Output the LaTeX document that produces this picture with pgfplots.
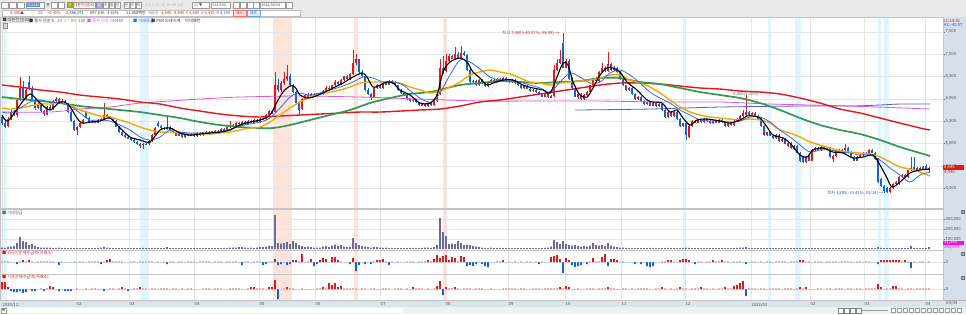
\documentclass[border=0pt]{standalone}
\usepackage{pgfplots}
\pgfplotsset{compat=1.18}
\usepackage{pgfplotstable}
\usepackage{fontspec}
\setmainfont{Noto Sans CJK KR}
\definecolor{upc}{HTML}{E81515}
\definecolor{dnc}{HTML}{1B5FD8}
\definecolor{ma10}{HTML}{2F6FF0}
\definecolor{ma20}{HTML}{F2A900}
\definecolor{ma60}{HTML}{2E9A52}
\definecolor{ma120}{HTML}{E8161B}
\definecolor{ma240}{HTML}{E055D0}
\definecolor{ma480}{HTML}{5A5AD6}
\definecolor{volc}{HTML}{6A6A9C}
\definecolor{bandb}{HTML}{E2F5FC}
\definecolor{bandp}{HTML}{FCE3DC}
\definecolor{gridc}{HTML}{E6E6E6}
\definecolor{linec}{HTML}{C4C4C4}
\definecolor{hdr}{HTML}{E9E9E9}
\definecolor{rcol}{HTML}{D6DFEA}
\definecolor{strip}{HTML}{DCE3EC}
\definecolor{magtag}{HTML}{F010E8}
\newcommand\hd{\fontsize{4.0}{5}\selectfont}
\newcommand\hs{\fontsize{3.5}{4}\selectfont}
\newcommand\tk{\fontsize{4.2}{5}\selectfont}

\pgfplotstableread{
x o h l c v f g
2 5600 5640 5420 5450 15000 1 7
5 5450 5500 5350 5380 12000 1 7
8 5400 5600 5370 5560 20000 1 2
11 5550 5740 5520 5700 25000 -1 -2
14 5700 5760 5620 5650 30000 -1 -3
17 5640 6020 5600 5980 60000 -2 -3
20 5980 6480 5950 6250 120000 1 -2
23 6250 6400 5980 6020 80000 2 -4
26 6030 6240 6000 6200 70000 1 -3
29 6380 6520 6200 6240 40000 2 -1
32 6240 6280 5950 5980 50000 1 -2
35 5980 6000 5760 5800 30000 -1 -2
38 5800 5920 5770 5880 20000 1 -1
41 5870 5900 5700 5720 15000 1 1
44 5720 5760 5620 5650 14000 1 -2
47 5650 5850 5630 5820 13000 1 1
50 5820 5860 5750 5780 13000 1 3
53 5780 5980 5760 5950 12000 1 2
56 5950 6050 5920 6000 12000 -1 -1
59 6000 6020 5880 5900 13000 -3 -2
62 5900 5990 5880 5950 12000 1 -1
65 5950 5970 5860 5880 11000 -1 -2
68 5880 5900 5680 5700 10000 -1 -2
71 5700 5720 5480 5500 12000 -1 -2
74 5500 5520 5280 5300 10000 1 -1
77 5300 5400 5200 5380 9000 -1 1
80 5380 5470 5350 5450 9000 1 -1
83 5450 5540 5430 5520 8000 1 -1
86 5700 5720 5550 5570 9000 -1 1
89 5570 5590 5460 5480 8000 1 -1
92 5480 5520 5460 5500 9000 1 1
95 5490 5510 5450 5470 9000 1 1
98 5470 5540 5450 5520 10000 1 -1
101 5520 5580 5500 5560 14000 -2 -1
104 5560 5900 5540 5640 20000 1 -2
107 5640 5660 5580 5600 14000 2 -1
110 5600 5620 5540 5560 11000 3 1
113 5560 5580 5480 5500 10000 1 1
116 5500 5520 5360 5380 9000 1 -1
119 5380 5400 5230 5250 10000 1 1
122 5260 5280 5180 5200 9000 1 2
125 5200 5220 5130 5150 9000 -1 1
128 5150 5170 5100 5120 9000 -1 -2
131 5120 5140 5060 5080 8000 1 -1
134 5080 5100 5020 5040 8000 1 1
137 5040 5060 4960 4980 9000 -1 1
140 4990 5010 4900 4960 10000 1 2
143 4960 5020 4880 5000 12000 1 1
146 5000 5020 4960 4980 10000 1 1
149 4980 5080 4960 5060 9000 1 -1
152 5060 5220 5040 5200 10000 1 1
155 5200 5370 5180 5350 12000 -1 1
158 5460 5500 5380 5400 11000 1 -1
161 5400 5420 5330 5350 9000 -1 1
164 5350 5370 5300 5330 9000 1 1
167 5330 5600 5310 5380 20000 -2 1
170 5380 5400 5280 5300 10000 1 -1
173 5300 5320 5230 5250 9000 1 1
176 5250 5270 5160 5180 8000 -1 1
179 5180 5250 5160 5230 9000 1 -1
182 5230 5250 5130 5150 8000 1 1
185 5150 5220 5130 5200 9000 -1 -1
188 5200 5220 5160 5180 8000 1 1
191 5180 5240 5160 5220 8000 1 1
194 5220 5240 5150 5170 9000 1 -1
197 5170 5250 5150 5230 8000 -1 -1
200 5230 5250 5180 5200 8000 1 -1
203 5200 5270 5180 5250 9000 1 1
206 5250 5270 5200 5220 9000 1 1
209 5220 5290 5200 5270 9000 1 1
212 5270 5290 5220 5240 8000 -1 -1
215 5240 5300 5220 5280 9000 1 1
218 5280 5300 5230 5250 9000 1 1
221 5250 5340 5230 5320 10000 1 1
224 5320 5340 5280 5300 12000 -1 -1
227 5300 5380 5280 5360 11000 1 -1
230 5360 5500 5340 5420 15000 1 1
233 5420 5440 5360 5380 13000 1 1
236 5380 5490 5360 5470 14000 1 1
239 5470 5490 5410 5430 20000 -1 1
242 5430 5500 5410 5480 18000 -3 -1
245 5480 5500 5420 5440 14000 1 -1
248 5440 5520 5420 5500 12000 1 1
251 5500 5520 5450 5470 13000 -1 2
254 5470 5540 5450 5520 12000 1 2
257 5520 5540 5470 5490 15000 1 1
260 5490 5580 5470 5560 20000 1 1
263 5560 5580 5520 5540 18000 -3 1
266 5540 5660 5520 5640 25000 -2 -1
269 5640 5740 5620 5720 35000 1 2
272 5720 5740 5660 5680 30000 1 2
275 5700 6600 5680 6300 340000 3 9
278 6300 6450 6150 6200 60000 -3 -10
281 6200 6400 6150 6350 55000 -2 -1
284 6350 6600 6300 6450 60000 -1 1
287 6450 6750 6400 6520 70000 -3 2
290 6520 6560 6280 6300 50000 -2 1
293 6300 6340 6130 6150 80000 2 1
296 6150 6180 5880 5900 60000 2 -1
299 5900 5950 5650 5760 40000 1 -1
302 5780 6020 5760 6000 30000 8 1
305 6000 6100 5980 6080 20000 -1 -1
308 6080 6120 6030 6050 25000 1 -1
311 6050 6130 6030 6100 18000 3 -1
314 6100 6130 6040 6060 15000 -4 -1
317 6060 6140 6040 6120 14000 -2 1
320 6120 6150 6080 6100 13000 2 1
323 6100 6200 6080 6180 25000 4 2
326 6180 6280 6160 6250 30000 3 1
329 6250 6290 6200 6220 20000 -1 6
332 6220 6320 6200 6300 35000 5 4
335 6300 6420 6280 6380 45000 5 6
338 6380 6400 6320 6340 30000 2 2
341 6340 6440 6320 6420 40000 1 3
344 6420 6520 6400 6500 25000 -1 1
347 6500 6530 6430 6450 20000 -1 1
350 6450 6580 6430 6560 22000 -2 1
353 6560 7100 6540 6800 110000 4 1
356 6800 7000 6760 6880 60000 -9 1
359 6880 6900 6580 6600 40000 -3 -1
362 6600 6640 6480 6500 30000 -1 1
365 6500 6520 6180 6200 25000 -2 1
368 6200 6240 6080 6100 20000 -1 -1
371 6100 6120 5980 6040 15000 -2 1
374 6040 6270 6020 6250 20000 1 1
377 6250 6330 6230 6300 18000 2 -1
380 6300 6320 6230 6250 14000 2 -1
383 6250 6370 6230 6350 12000 3 1
386 6350 6380 6300 6320 15000 1 1
389 6320 6420 6300 6400 12000 -3 1
392 6400 6420 6340 6360 11000 1 -1
395 6380 6400 6280 6300 10000 -1 1
398 6300 6320 6180 6200 10000 1 1
401 6200 6220 6110 6130 9000 -1 1
404 6130 6150 6060 6080 10000 -1 -1
407 6080 6100 5980 6000 9000 1 1
410 6000 6020 5930 5950 10000 1 -1
413 5950 6000 5930 5980 12000 1 2
416 5980 6000 5900 5920 10000 -1 1
419 5920 5940 5840 5860 10000 1 1
422 5860 5900 5840 5880 12000 1 1
425 5880 5900 5820 5840 14000 1 -1
428 5840 5920 5820 5900 15000 2 1
431 5900 5920 5850 5870 12000 1 -1
434 5870 5970 5850 5950 20000 3 1
437 5950 6120 5930 6100 40000 7 3
440 6100 6900 6080 6700 310000 4 8
443 6700 6950 6550 6600 170000 6 -6
446 6620 7000 6600 6850 130000 7 2
449 6850 7000 6820 6950 50000 2 1
452 6950 6980 6880 6900 55000 5 1
455 6900 7150 6880 7000 50000 4 2
458 7000 7050 6900 6920 80000 1 1
461 6920 7180 6900 7030 60000 6 -1
464 7030 7060 6960 6980 40000 5 1
467 6980 7000 6630 6650 45000 -4 1
470 6650 6680 6360 6380 40000 -3 1
473 6380 6430 6350 6400 30000 -4 -1
476 6400 6420 6280 6300 25000 -2 1
479 6300 6440 6280 6420 20000 -1 1
482 6420 6440 6330 6350 15000 -2 1
485 6350 6370 6260 6280 12000 -4 -1
488 6280 6370 6260 6350 10000 -5 -1
491 6350 6440 6330 6420 13000 -1 1
494 6420 6440 6360 6380 10000 -1 -1
497 6380 6470 6360 6450 9000 1 -1
500 6450 6470 6380 6400 11000 1 -1
503 6400 6490 6380 6470 9000 2 1
506 6470 6490 6400 6420 8000 -1 1
509 6420 6440 6360 6380 10000 1 1
512 6380 6440 6360 6420 8000 -1 1
515 6420 6440 6330 6350 9000 1 1
518 6350 6370 6280 6300 9000 -1 -1
521 6300 6320 6230 6250 8000 1 1
524 6250 6300 6230 6280 10000 -1 1
527 6280 6300 6210 6230 9000 1 -1
530 6230 6250 6160 6180 8000 1 -1
533 6180 6220 6160 6200 10000 -1 1
536 6200 6220 6130 6150 9000 1 1
539 6150 6170 6080 6100 9000 -2 1
542 6100 6120 6030 6050 10000 1 -1
545 6050 6120 6030 6100 11000 -1 1
548 6100 6120 6010 6030 14000 -1 1
551 6030 6080 6010 6060 25000 5 1
554 6060 6750 6040 6650 90000 6 1
557 6650 6900 6620 6800 70000 7 1
560 6800 7100 6780 6900 50000 3 2
563 7250 7480 6680 6700 80000 -11 1
566 6700 6900 6680 6850 50000 4 3
569 6850 6880 6430 6450 40000 2 2
572 6450 6480 6230 6250 35000 -3 -1
575 6250 6280 6030 6050 40000 -5 -1
578 6050 6120 6000 6100 30000 -4 1
581 6100 6130 5980 6000 25000 -3 -1
584 6000 6100 5980 6080 28000 -1 -1
587 6080 6170 6060 6150 25000 -2 1
590 6150 6320 6130 6300 35000 1 1
593 6300 6470 6280 6450 60000 4 1
596 6450 6480 6380 6400 40000 1 -1
599 6400 6620 6380 6600 35000 1 1
602 6600 6800 6580 6700 40000 5 1
605 6700 6730 6600 6620 30000 8 1
608 6620 7050 6600 6780 60000 -4 2
611 6780 6800 6630 6650 35000 3 1
614 6650 6730 6630 6700 25000 3 1
617 6700 6720 6580 6600 20000 2 -1
620 6600 6620 6430 6450 15000 -1 -1
623 6450 6470 6280 6300 13000 1 1
626 6300 6320 6180 6200 12000 -1 1
629 6200 6270 6180 6250 10000 -1 -1
632 6250 6270 6080 6100 9000 -1 1
635 6100 6120 5980 6000 9000 -2 -1
638 6000 6070 5980 6050 10000 -1 1
641 6050 6070 5930 5950 9000 -2 1
644 5950 5970 5860 5880 9000 -1 1
647 5880 5940 5860 5920 10000 -4 1
650 5920 5940 5830 5850 11000 -5 -1
653 5850 5920 5830 5900 10000 -4 -1
656 5900 5920 5810 5830 9000 -1 1
659 5830 5900 5810 5880 9000 -1 1
662 5880 5900 5730 5750 10000 1 2
665 5750 5770 5580 5600 10000 1 1
668 5600 5720 5580 5700 11000 2 -1
671 5700 5720 5600 5620 10000 2 1
674 5620 5720 5600 5700 9000 1 -1
677 5700 5720 5530 5550 9000 -1 1
680 5550 5570 5380 5400 9000 2 2
683 5400 5470 5380 5450 12000 3 1
686 5450 5470 5080 5200 15000 3 1
689 5150 5420 5130 5400 12000 2 -1
692 5400 5520 5380 5500 10000 -1 1
695 5500 5520 5450 5470 9000 -2 1
698 5470 5540 5450 5520 9000 1 1
701 5520 5540 5470 5490 8000 1 2
704 5490 5560 5470 5540 8000 -1 1
707 5540 5560 5480 5500 8000 1 1
710 5500 5520 5440 5460 8000 1 -1
713 5460 5520 5440 5500 8000 2 1
716 5500 5520 5450 5470 8000 1 -1
719 5470 5540 5450 5520 9000 1 1
722 5520 5540 5460 5480 8000 2 1
725 5480 5500 5380 5400 9000 1 2
728 5400 5470 5380 5450 10000 1 1
731 5450 5470 5400 5420 9000 -1 1
734 5420 5520 5400 5500 10000 1 3
737 5500 5570 5480 5550 12000 1 4
740 5550 5640 5530 5620 13000 1 6
743 5620 5750 5600 5680 15000 -1 8
746 5640 6080 5620 5700 20000 -2 -7
749 5700 5720 5630 5650 12000 -1 1
752 5650 5700 5630 5680 10000 1 1
755 5680 5700 5600 5620 9000 1 1
758 5620 5640 5530 5550 9000 -1 -1
761 5550 5570 5380 5400 8000 1 1
764 5400 5420 5180 5200 9000 -1 1
767 5200 5270 5180 5250 8000 1 -1
770 5250 5270 5160 5180 8000 1 1
773 5180 5200 5110 5130 8000 -1 1
776 5130 5220 5110 5200 8000 1 1
779 5200 5220 5030 5050 9000 1 1
782 5050 5120 5030 5100 8000 1 -1
785 5100 5120 4980 5000 8000 1 1
788 4950 5040 4930 5020 8000 -1 1
791 5020 5040 4880 4900 9000 1 1
794 4880 4970 4860 4950 8000 1 -1
797 4950 4970 4780 4800 8000 1 1
800 4800 4820 4580 4600 10000 2 2
803 4700 4720 4560 4580 9000 2 1
806 4580 4720 4560 4700 8000 1 2
809 4750 4770 4600 4620 8000 1 -1
812 4620 4870 4600 4850 9000 -1 -1
815 4850 4920 4830 4900 8000 1 -1
818 4900 4920 4830 4850 8000 1 1
821 4850 4940 4830 4920 8000 1 1
824 4920 4940 4860 4880 8000 -1 -1
827 4880 4920 4860 4900 8000 1 1
830 4900 4920 4680 4700 8000 1 1
833 4650 4740 4580 4720 9000 1 -1
836 4720 4870 4700 4850 8000 1 1
839 4850 4870 4780 4800 8000 -1 1
842 4800 4870 4780 4850 8000 1 1
845 4850 5000 4830 4900 9000 1 -1
848 4900 4920 4800 4820 8000 1 1
851 4820 4840 4680 4700 8000 1 1
854 4700 4720 4600 4620 8000 -1 -1
857 4620 4720 4600 4700 8000 1 1
860 4700 4770 4680 4750 8000 1 1
863 4750 4820 4730 4800 9000 -1 -1
866 4800 4820 4760 4780 8000 1 1
869 4780 4870 4760 4850 8000 1 1
872 4850 4870 4780 4800 8000 -1 1
875 4800 4820 4630 4650 9000 -1 1
878 4650 4670 4130 4150 20000 -2 5
881 4200 4220 4030 4050 12000 2 2
884 4050 4080 3885 3950 10000 2 -1
887 4000 4020 3885 3920 9000 2 1
890 3920 4020 3900 4000 8000 2 1
893 4000 4120 3980 4100 8000 2 3
896 4150 4170 4080 4100 8000 2 3
899 4100 4270 4080 4250 9000 2 1
902 4250 4320 4230 4300 8000 1 1
905 4300 4320 4230 4250 8000 2 -1
908 4250 4420 4230 4400 9000 1 1
911 4400 4700 4380 4450 30000 -6 1
914 4480 4700 4380 4400 12000 1 -1
917 4400 4470 4380 4450 9000 -1 1
920 4450 4470 4400 4420 9000 1 1
923 4420 4500 4400 4480 10000 1 1
926 4500 4550 4410 4430 9000 -1 1
929 4400 4470 4350 4445 20000 1 1
}\candles

\pgfplotsset{
  panel/.style={scale only axis, width=943pt, xmin=0, xmax=943, anchor=north west,
    xtick={2,76,129,194,259,315,380,445,508,565,621,685,751,810,864,925},
    xticklabels={}, xtick style={draw=none},
    grid=major, major grid style={draw=gridc, line width=0.4pt},
    axis line style={draw=linec, line width=0.4pt},
    ytick pos=right, yticklabel pos=right, tick align=outside, major tick length=1.8pt,
    ytick style={draw=black!55, line width=0.3pt},
    yticklabel style={font=\tk, text=black!70, inner sep=0.6pt},
    scaled y ticks=false,
    /pgf/number format/fixed, /pgf/number format/1000 sep={,},
    /pgf/number format/assume math mode=true},
  netbar/.style={ybar, bar width=1.7pt, bar shift=0pt, draw=none, forget plot}
}

\begin{document}
\begin{tikzpicture}
\useasboundingbox (0pt,0pt) rectangle (966pt,-314pt);
\begin{scope}[x=1pt,y=-1pt]
\fill[white] (0,0) rectangle (966,314);
% header
\fill[hdr] (0,0) rectangle (966,17);
\draw[black!30, line width=0.4pt] (0,17) -- (966,17);
\foreach \a in {1,9,17} {\draw[fill=white, draw=black!40, line width=0.3pt] (\a,2) rectangle ++(7,6);}
\draw[fill=white, draw=black!40, line width=0.3pt] (26,2) rectangle (44,8);
\node[anchor=west, font=\hs, text=white, fill=ma10!80, inner sep=0.4pt] at (27,5) {001440};
\node[font=\hs, text=black!60, inner sep=0] at (48,5) {▼};
\draw[fill=white, draw=black!40, line width=0.3pt] (51,2) rectangle ++(6,6);
\draw[fill=white, draw=black!40, line width=0.3pt] (58,2) rectangle ++(6,6);
\fill[olive!80] (67,2) rectangle (73,8);
\node[font=\hs, text=white, inner sep=0] at (70,5) {종};
\draw[fill=white, draw=black!40, line width=0.3pt] (73.5,2) rectangle (95.5,8);
\node[anchor=west, font=\hs, text=upc!80!black, inner sep=0] at (74.2,5) {대한전선(DX)};
\draw[fill=rcol!60!ma10, draw=black!40, line width=0.3pt] (96.5,2) rectangle ++(5.5,6);
\node[font=\hs, text=white, inner sep=0] at (99.25,5) {일};
\foreach \a/\t in {103/주,109/월,115/년,124/분,130/초,136/틱} {
  \draw[fill=white, draw=black!40, line width=0.3pt] (\a,2) rectangle ++(5.5,6);
  \node[font=\hs, text=black!70, inner sep=0] at (\a+2.75,5) {\t};}
\node[anchor=west, font=\hs, text=black!35, inner sep=0] at (145,5) {1 \ 3 \ 5 \ 10 \ 15 \ 30 \ 60 \ 120};
\draw[fill=white, draw=black!40, line width=0.3pt] (192,2) rectangle (209,8);
\node[anchor=west, font=\hs, text=black!70, inner sep=0] at (194,5) {15 ▼};
\draw[fill=white, draw=black!40, line width=0.3pt] (211,2) rectangle (230,8);
\node[anchor=west, font=\hs, text=black!70, inner sep=0] at (212.5,5) {314/500};
\foreach \a in {233,240,247,253} {\draw[fill=white, draw=black!40, line width=0.3pt] (\a,2) rectangle ++(6,6);}
\draw[fill=white, draw=black!40, line width=0.3pt] (260,2) rectangle (285,8);
\node[anchor=west, font=\hs, text=black!75, inner sep=0] at (261.5,5) {2022/04/04};
\draw[fill=white, draw=black!40, line width=0.3pt] (286,2) rectangle ++(6,6);
% header row 2
\draw[fill=white, draw=black!25, line width=0.3pt] (2,10) rectangle (300,16.5);
\node[anchor=west, font=\hd, text=upc, inner sep=0] at (10,13.2) {4,445▲};
\node[anchor=west, font=\hd, text=upc, inner sep=0] at (38,13.2) {20};
\node[anchor=west, font=\hd, text=upc, inner sep=0] at (47,13.2) {+0.45\%};
\node[anchor=west, font=\hd, text=black!80, inner sep=0] at (66,13.2) {2,566,071};
\node[anchor=west, font=\hd, text=upc!70!black, inner sep=0] at (90,13.2) {687,616};
\node[anchor=west, font=\hd, text=black!80, inner sep=0] at (107,13.2) {3.61\%};
\node[anchor=west, font=\hd, text=black!80, inner sep=0] at (126,13.2) {11,058백만};
\node[anchor=west, font=\hs, text=black!60, inner sep=0] at (148.5,13.2) {매도잔};
\node[anchor=west, font=\hd, text=upc, inner sep=0] at (161,13.2) {4,445};
\node[anchor=west, font=\hd, text=upc, inner sep=0] at (174,13.2) {4,440};
\node[anchor=west, font=\hs, text=black!70, inner sep=0] at (185,13.2) {시};
\node[anchor=west, font=\hd, text=upc, inner sep=0] at (189,13.2) {4,400};
\node[anchor=west, font=\hs, text=black!70, inner sep=0] at (200.5,13.2) {고};
\node[anchor=west, font=\hd, text=upc, inner sep=0] at (204.5,13.2) {4,470};
\node[anchor=west, font=\hs, text=black!70, inner sep=0] at (216,13.2) {저};
\node[anchor=west, font=\hd, text=dnc, inner sep=0] at (220,13.2) {4,350};
\draw[fill=bandp, draw=upc!60, line width=0.3pt] (233,10.5) rectangle (246,16);
\node[font=\hs, text=upc, inner sep=0] at (239.5,13.2) {매수};
\draw[fill=bandb!60!ma10!30, draw=dnc!60, line width=0.3pt] (247,10.5) rectangle (260,16);
\node[font=\hs, text=dnc, inner sep=0] at (253.5,13.2) {매도};
% right column, date strip, scroll bar
\fill[rcol] (943,17) rectangle (966,300);
\fill[strip] (0,300) rectangle (966,307);
\draw[black!30, line width=0.3pt] (0,300) -- (966,300);
\fill[black!6] (0,307) rectangle (966,314);
\draw[fill=white, draw=black!40, line width=0.3pt] (1,308) rectangle (6,313);
\node[font=\hs, text=black!60, inner sep=0] at (3.5,310.5) {◀};
\fill[white] (7,308) rectangle (403,313);
\foreach \a in {838,844,850,856} {\draw[fill=white, draw=black!50, line width=0.3pt] (\a,308) rectangle ++(5,5);}
\draw[black!40, line width=0.4pt] (862,310.5) -- (888,310.5);
\foreach \a in {891,897,903,909,915,921,927,933,939,945,951,957} {\draw[fill=white, draw=black!40, line width=0.3pt] (\a,308.5) rectangle ++(4.5,4);}
% vertical bands
\foreach \a/\b in {0/7,140/149,683/686,768/771,795/801,878/881,884/889} {\fill[bandb] (\a,17.5) rectangle (\b,300);}
\foreach \a/\b in {273/292,354/358,443/447} {\fill[bandp] (\a,17.5) rectangle (\b,300);}
\end{scope}

% ---------- main price panel ----------
\begin{axis}[panel, at={(0pt,-17pt)}, height=191pt, ymin=3560, ymax=7829,
  ytick={4000,4500,5000,5500,6000,6500,7000,7500}]
% wicks
\addplot[draw=none, mark=none, forget plot, restrict y to domain=0:100000,
  error bars/.cd, y dir=both, y explicit, error mark=none,
  error bar style={draw=upc, line width=0.5pt}]
  table[x=x, y expr={\thisrow{c}>=\thisrow{o} ? (\thisrow{h}+\thisrow{l})/2 : -100000},
        y error expr={(\thisrow{h}-\thisrow{l})/2}] {\candles};
\addplot[draw=none, mark=none, forget plot, restrict y to domain=0:100000,
  error bars/.cd, y dir=both, y explicit, error mark=none,
  error bar style={draw=dnc, line width=0.5pt}]
  table[x=x, y expr={\thisrow{c}<\thisrow{o} ? (\thisrow{h}+\thisrow{l})/2 : -100000},
        y error expr={(\thisrow{h}-\thisrow{l})/2}] {\candles};
% bodies
\addplot[draw=none, mark=none, forget plot, restrict y to domain=0:100000,
  error bars/.cd, y dir=both, y explicit, error mark=none,
  error bar style={draw=upc, line width=2pt}]
  table[x=x, y expr={\thisrow{c}>=\thisrow{o} ? (\thisrow{o}+\thisrow{c})/2 : -100000},
        y error expr={abs(\thisrow{c}-\thisrow{o})/2}] {\candles};
\addplot[draw=none, mark=none, forget plot, restrict y to domain=0:100000,
  error bars/.cd, y dir=both, y explicit, error mark=none,
  error bar style={draw=dnc, line width=2pt}]
  table[x=x, y expr={\thisrow{c}<\thisrow{o} ? (\thisrow{o}+\thisrow{c})/2 : -100000},
        y error expr={abs(\thisrow{c}-\thisrow{o})/2}] {\candles};
% MA 480
\addplot[ma480, line width=0.8pt, mark=none, smooth] coordinates {
(575,5750)(650,5772)(720,5817)(800,5839)(850,5839)(880,5862)(900,5884)(930,5884)};
% MA 240
\addplot[ma240, line width=0.8pt, mark=none, smooth] coordinates {
(2,5705)(50,5705)(80,5772)(110,5817)(140,5906)(170,5951)(200,5996)(240,6040)(300,6063)(360,6040)(420,5996)(480,5951)(540,5951)(600,5951)(660,5929)(720,5929)(770,5884)(850,5839)(930,5772)};
% MA 120
\addplot[ma120, line width=1.4pt, mark=none, smooth] coordinates {
(2,6309)(20,6264)(40,6197)(60,6152)(80,6085)(100,6040)(120,5996)(140,5929)(160,5884)(180,5794)(200,5727)(220,5661)(240,5616)(260,5594)(280,5616)(300,5638)(320,5661)(340,5683)(360,5705)(380,5705)(400,5727)(420,5750)(440,5772)(460,5839)(480,5929)(500,5974)(520,6040)(540,6108)(560,6175)(580,6242)(600,6309)(620,6353)(640,6353)(660,6331)(680,6286)(700,6242)(720,6219)(740,6175)(760,6152)(780,6108)(800,6018)(820,5906)(840,5772)(860,5683)(880,5571)(900,5459)(920,5348)(930,5303)};
% MA 60
\addplot[ma60, line width=1.7pt, mark=none, smooth] coordinates {
(2,6040)(20,5996)(40,5951)(60,5906)(80,5839)(100,5794)(120,5750)(140,5705)(160,5638)(180,5571)(200,5482)(220,5415)(240,5370)(260,5348)(273,5348)(290,5415)(310,5527)(330,5638)(350,5750)(370,5906)(390,6018)(410,6108)(430,6152)(443,6219)(460,6309)(480,6353)(500,6398)(520,6376)(540,6353)(560,6376)(580,6398)(600,6465)(620,6465)(640,6376)(660,6331)(680,6242)(700,6152)(720,6085)(740,6018)(760,5906)(780,5750)(800,5571)(820,5415)(840,5303)(860,5214)(880,5080)(900,4923)(920,4789)(930,4722)};
% MA 20
\addplot[ma20, line width=1.4pt, mark=none, smooth] coordinates {
(2,5794)(10,5772)(20,5794)(30,5839)(40,5884)(50,5884)(60,5906)(70,5862)(80,5750)(90,5683)(100,5616)(110,5594)(120,5527)(130,5459)(140,5370)(150,5303)(160,5258)(170,5258)(180,5236)(190,5214)(200,5214)(210,5214)(220,5236)(230,5258)(240,5303)(250,5348)(260,5370)(270,5482)(280,5638)(290,5794)(300,5929)(310,6040)(320,6108)(330,6152)(340,6197)(350,6264)(360,6353)(370,6376)(380,6376)(390,6376)(400,6353)(410,6264)(420,6197)(430,6130)(440,6175)(450,6264)(460,6376)(470,6532)(480,6599)(490,6644)(500,6599)(510,6555)(520,6465)(530,6376)(540,6353)(550,6309)(560,6353)(570,6376)(580,6398)(590,6420)(600,6465)(610,6532)(620,6532)(630,6420)(640,6353)(650,6264)(660,6130)(670,5974)(680,5817)(690,5705)(700,5638)(710,5594)(720,5571)(730,5549)(740,5527)(750,5549)(760,5527)(770,5459)(780,5303)(790,5236)(800,5147)(810,5035)(820,4968)(830,4901)(840,4834)(850,4811)(860,4789)(870,4767)(880,4700)(890,4588)(900,4476)(910,4431)(920,4364)(930,4275)};
% MA 10
\addplot[ma10, line width=0.8pt, mark=none, smooth] coordinates {
(2,5705)(10,5683)(20,5794)(30,5929)(40,5974)(50,5929)(60,5906)(70,5839)(80,5683)(90,5527)(100,5527)(110,5504)(120,5415)(130,5303)(140,5147)(150,5080)(160,5147)(170,5303)(180,5258)(190,5236)(200,5236)(220,5258)(240,5393)(260,5482)(270,5571)(280,5794)(290,6040)(298,6130)(310,6085)(320,6130)(330,6197)(340,6264)(353,6376)(363,6488)(373,6465)(383,6376)(393,6376)(403,6309)(413,6130)(423,5974)(432,5929)(440,6130)(450,6532)(460,6868)(470,6823)(480,6666)(490,6488)(500,6420)(510,6420)(520,6376)(530,6309)(540,6242)(550,6152)(560,6376)(570,6577)(580,6488)(590,6353)(600,6376)(610,6577)(620,6644)(630,6532)(640,6353)(650,6152)(660,6018)(670,5906)(680,5750)(690,5638)(700,5527)(710,5504)(720,5504)(730,5482)(740,5504)(750,5594)(760,5594)(770,5482)(780,5303)(790,5147)(800,4968)(810,4811)(820,4856)(830,4856)(840,4811)(850,4789)(860,4744)(870,4744)(880,4633)(890,4454)(900,4297)(910,4141)(920,4297)(930,4364)};
% MA 5
\addplot[black, line width=1.1pt, mark=none, smooth] coordinates {
(2,5638)(8,5504)(20,5862)(30,6108)(40,5906)(50,5750)(60,5929)(68,5884)(77,5571)(82,5459)(90,5482)(100,5504)(110,5571)(120,5348)(130,5147)(140,5080)(150,5035)(160,5303)(170,5348)(180,5236)(190,5191)(200,5214)(210,5236)(220,5258)(230,5303)(240,5415)(250,5482)(260,5527)(270,5638)(277,5929)(283,6152)(290,6286)(295,6264)(300,6085)(307,6018)(313,6040)(323,6130)(333,6242)(343,6353)(353,6488)(362,6577)(367,6488)(373,6264)(380,6309)(387,6376)(393,6353)(400,6197)(410,6085)(420,5906)(430,5906)(437,6085)(443,6599)(450,6823)(460,6912)(467,6823)(473,6599)(480,6465)(487,6309)(493,6353)(503,6420)(513,6420)(523,6309)(533,6242)(543,6197)(550,6130)(557,6488)(563,6800)(568,6756)(573,6376)(580,6085)(587,6040)(593,6242)(600,6532)(607,6689)(613,6689)(620,6599)(627,6376)(637,6197)(647,5974)(653,5929)(662,5906)(670,5705)(677,5750)(683,5571)(690,5415)(697,5527)(707,5549)(720,5504)(730,5459)(740,5527)(747,5616)(753,5616)(760,5571)(767,5370)(773,5191)(783,5124)(790,5012)(800,4744)(807,4700)(813,4856)(823,4901)(833,4811)(843,4789)(853,4677)(863,4700)(873,4744)(880,4521)(887,4230)(892,4029)(900,4141)(910,4342)(920,4409)(930,4431)};
\node[anchor=east, font=\tk, text=upc, inner sep=0.5pt] at (axis cs:560,7470) {최고 7,480(+40.57\%, 09/08) →};
\node[anchor=east, font=\tk, text=dnc, inner sep=0.5pt] at (axis cs:884,3890) {최저 3,885(-14.41\%, 03/14) →};
\node[font=\tk, text=black!60, inner sep=0.5pt] at (axis cs:746,6110) {6,080(0.00\%)};
\end{axis}

% ---------- volume panel ----------
\begin{axis}[panel, at={(0pt,-209pt)}, height=41pt, ymin=-10000, ymax=400000,
  ytick={100000,200000,300000}]
\addplot[ybar, bar width=1.7pt, bar shift=0pt, fill=volc, draw=none] table[x=x, y=v] {\candles};
\end{axis}

% ---------- foreign net buying ----------
\begin{axis}[panel, at={(0pt,-250pt)}, height=24pt, ymin=-12, ymax=12, ytick={0}]
\addplot[netbar, fill=upc] table[x=x, y expr={\thisrow{f}>=2 ? \thisrow{f} : 0}] {\candles};
\addplot[netbar, fill=upc!35] table[x=x, y expr={\thisrow{f}==1 ? 1 : 0}] {\candles};
\addplot[netbar, fill=dnc] table[x=x, y expr={\thisrow{f}<=-2 ? \thisrow{f} : 0}] {\candles};
\addplot[netbar, fill=dnc!35] table[x=x, y expr={\thisrow{f}==-1 ? -1 : 0}] {\candles};
\end{axis}

% ---------- institutional net buying ----------
\begin{axis}[panel, at={(0pt,-274pt)}, height=26pt, ymin=-11, ymax=15, ytick={0},
  xticklabels={2020/12,02,03,04,05,06,07,08,09,10,11,12,2022/01,02,03,04},
  xticklabel style={anchor=north west, font=\tk, text=black!70, inner sep=0.5pt, yshift=-0.3pt}]
\addplot[netbar, fill=upc] table[x=x, y expr={\thisrow{g}>=2 ? \thisrow{g} : 0}] {\candles};
\addplot[netbar, fill=upc!35] table[x=x, y expr={\thisrow{g}==1 ? 1 : 0}] {\candles};
\addplot[netbar, fill=dnc] table[x=x, y expr={\thisrow{g}<=-2 ? \thisrow{g} : 0}] {\candles};
\addplot[netbar, fill=dnc!35] table[x=x, y expr={\thisrow{g}==-1 ? -1 : 0}] {\candles};
\end{axis}

% ---------- overlays ----------
\begin{scope}[x=1pt,y=-1pt]
\node[anchor=west, font=\tk, text=black!75, fill=black!12, inner sep=0.4pt] at (2,20.5) {■ 대한전선(DX)};
\node[anchor=west, font=\tk, text=black!80, inner sep=0] at (29,20.5) {■ 종가 단순 5};
\node[anchor=west, font=\tk, text=ma10, inner sep=0] at (57,20.5) {10};
\node[anchor=west, font=\tk, text=ma20, inner sep=0] at (64,20.5) {20};
\node[anchor=west, font=\tk, text=ma60, inner sep=0] at (71,20.5) {60};
\node[anchor=west, font=\tk, text=ma120, inner sep=0] at (78,20.5) {120};
\node[anchor=west, font=\tk, text=ma240, inner sep=0] at (87,20.5) {■ 종가 단순 240};
\node[anchor=west, font=\tk, text=ma480, inner sep=0] at (116,20.5) {480};
\node[anchor=west, font=\tk, text=ma10, inner sep=0] at (133,20.5) {■ 거래량급};
\node[anchor=west, font=\tk, text=black!75, inner sep=0] at (151,20.5) {■ PER 모래시계};
\node[anchor=west, font=\tk, text=black!75, inner sep=0] at (185,20.5) {막대패턴};
\draw[fill=black!15, draw=black!45, line width=0.3pt] (3,23.5) rectangle (7,28);
\node[anchor=west, font=\tk, text=black!60, inner sep=0] at (2,213) {■ 거래량급};
\node[anchor=west, font=\tk, text=upc, inner sep=0] at (2,253.5) {■ 외국인순매수금액(거래소)};
\node[anchor=west, font=\tk, text=upc, inner sep=0] at (2,277.5) {■ 기관순매수금액(거래소)};
% right column labels
\node[anchor=west, font=\tk, text=upc, inner sep=0] at (943.5,20.8) {LC:14.41};
\node[anchor=west, font=\tk, text=dnc, inner sep=0] at (943.5,24.6) {HC:-40.57};
\fill[upc] (943,164.8) rectangle (964,170.2);
\node[anchor=west, font=\tk, text=white, inner sep=0] at (944,167.5) {4,445};
\node[anchor=west, font=\tk, text=upc, inner sep=0] at (944,172.6) {4,440};
\fill[magtag] (943,240.5) rectangle (964,244.8);
\node[anchor=west, font=\tk, text=white, inner sep=0] at (944,242.6) {11,058};
\node[anchor=west, font=\tk, text=magtag, inner sep=0] at (944,247) {263,005};
\foreach \b in {210.5,252,276} {\draw[fill=black!35, draw=black!55, line width=0.2pt] (961.5,\b) rectangle ++(3,3);}
\node[anchor=west, font=\tk, text=black!70, inner sep=0] at (946,303.5) {04/04};
\end{scope}
\end{tikzpicture}
\end{document}
